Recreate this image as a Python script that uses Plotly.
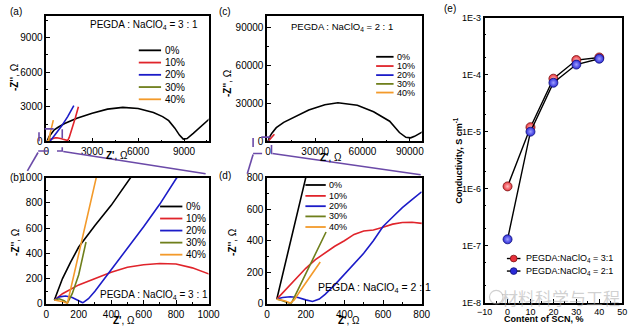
import plotly.graph_objects as go

W, H = 640, 332
def px(x): return x / W
def py(y): return 1 - y / H

FONT = "Liberation Sans, Arial, sans-serif"

# ---------------- data ----------------
series_labels = ["0%", "10%", "20%", "30%", "40%"]
series_colors = ["#000000", "#e0242b", "#1c1cc8", "#6f7f1c", "#f39a2a"]

# PEGDA : NaClO4 = 3 : 1  (panels a, b)
r31_0_x = [50, 70, 100, 150, 200, 300, 400, 520, 800, 1200, 2000, 3000, 4000, 5000, 6000, 7000, 7600, 8000, 8400, 8700, 8950, 9200, 9600, 10100, 10700]
r31_0_y = [30, 100, 200, 330, 450, 620, 780, 1000, 1250, 1550, 2000, 2450, 2800, 2950, 2850, 2500, 2150, 1800, 1150, 550, 200, 250, 700, 1300, 2000]
r31_10_x = [50, 100, 200, 300, 400, 500, 600, 700, 800, 900, 1000, 1100, 1200, 1300, 1400, 1500, 1700, 1900, 2100]
r31_10_y = [30, 80, 150, 200, 250, 290, 310, 320, 315, 285, 240, 190, 130, 80, 70, 350, 1150, 2050, 3000]
r31_20_x = [50, 80, 120, 160, 200, 225, 260, 300, 400, 500, 600, 700, 800, 1000, 1400, 1800]
r31_20_y = [30, 55, 62, 50, 25, 8, 40, 100, 270, 440, 610, 790, 990, 1330, 2150, 3100]
r31_30_x = [50, 80, 110, 130, 160, 200, 245]
r31_30_y = [30, 40, 25, 5, 80, 230, 490]
r31_40_x = [50, 80, 110, 130, 160, 200, 250, 310, 400, 460]
r31_40_y = [30, 25, 15, 3, 170, 390, 670, 1000, 1500, 1850]

# PEGDA : NaClO4 = 2 : 1  (panels c, d)
r21_0_x = [50, 100, 150, 200, 400, 1000, 2500, 5300, 10000, 15600, 25900, 36100, 44400, 56700, 67000, 77200, 83400, 87500, 90500, 93000, 96000, 98000]
r21_0_y = [30, 290, 550, 800, 1800, 3500, 6500, 10800, 15000, 18400, 24700, 28900, 30400, 28500, 23400, 15900, 7000, 3250, 2800, 4000, 6500, 7500]
r21_10_x = [50, 100, 150, 200, 250, 300, 350, 400, 450, 500, 550, 600, 650, 700, 750, 800, 1500, 2500, 4100]
r21_10_y = [30, 95, 160, 225, 280, 325, 365, 400, 440, 462, 468, 485, 505, 515, 517, 510, 1300, 2900, 5700]
r21_20_x = [50, 80, 120, 160, 200, 235, 270, 300, 350, 400, 450, 500, 550, 600, 650, 700, 750, 800]
r21_20_y = [30, 40, 45, 40, 25, 15, 30, 60, 120, 185, 250, 320, 400, 490, 550, 610, 660, 710]
r21_30_x = [50, 80, 110, 125, 160, 200, 250, 305]
r21_30_y = [30, 20, 5, 3, 90, 190, 310, 455]
r21_40_x = [50, 90, 120, 140, 170, 200, 235, 275]
r21_40_y = [30, 20, 5, 25, 80, 135, 200, 265]

r31 = [(r31_0_x, r31_0_y), (r31_10_x, r31_10_y), (r31_20_x, r31_20_y), (r31_30_x, r31_30_y), (r31_40_x, r31_40_y)]
r21 = [(r21_0_x, r21_0_y), (r21_10_x, r21_10_y), (r21_20_x, r21_20_y), (r21_30_x, r21_30_y), (r21_40_x, r21_40_y)]

# panel e
scn_content = [0, 10, 20, 30, 40]
cond_31 = [1.1e-6, 1.2e-5, 8.5e-5, 1.8e-4, 2.0e-4]
cond_21 = [1.3e-7, 1.0e-5, 7.2e-5, 1.5e-4, 1.9e-4]
cond_tickvals = [1e-8, 1e-7, 1e-6, 1e-5, 1e-4, 1e-3]
cond_ticktext = ["1E-8", "1E-7", "1E-6", "1E-5", "1E-4", "1E-3"]

fig = go.Figure()

# panels a-d: (axis suffix, dataset)
panel_defs = [("", r31), ("2", r31), ("3", r21), ("4", r21)]
for suf, data in panel_defs:
    for (xs, ys), col in zip(data, series_colors):
        fig.add_trace(go.Scatter(x=xs, y=ys, mode="lines", line=dict(color=col, width=1.6),
                                 xaxis="x" + suf, yaxis="y" + suf, showlegend=False, hoverinfo="skip"))

# panel e
fig.add_trace(go.Scatter(x=scn_content, y=cond_31, mode="lines+markers", xaxis="x5", yaxis="y5",
                         line=dict(color="black", width=1.4),
                         marker=dict(size=9, color="#e8303a", line=dict(color="#7a1010", width=0.8),
                                     gradient=dict(type="radial", color="#ffc0c0")),
                         showlegend=False))
fig.add_trace(go.Scatter(x=scn_content, y=cond_21, mode="lines+markers", xaxis="x5", yaxis="y5",
                         line=dict(color="black", width=1.4),
                         marker=dict(size=9, color="#2a2ad8", line=dict(color="#10107a", width=0.8),
                                     gradient=dict(type="radial", color="#a0a0ff")),
                         showlegend=False))

def axis(domain, rng, tickvals, minor_dtick, anchor, tick_font=10, **kw):
    d = dict(domain=domain, range=rng, tickvals=tickvals, anchor=anchor, tickformat="d",
             showline=True, linecolor="black", linewidth=1.5, mirror=True,
             ticks="inside", ticklen=4, tickwidth=1, tickcolor="black",
             showgrid=False, zeroline=False,
             tickfont=dict(family=FONT, size=tick_font, color="black"))
    if minor_dtick is not None:
        d["minor"] = dict(ticks="inside", ticklen=2, tickcolor="black", dtick=minor_dtick, showgrid=False)
    d.update(kw)
    return d

xa_dom = [px(39.5), px(207)]
xc_dom = [px(267.5), px(427)]
ytop_dom = [py(140.5), py(10)]
ybot_dom = [py(309), py(178)]

fig.update_layout(
    width=W, height=H, margin=dict(l=0, r=0, t=0, b=0),
    paper_bgcolor="white", plot_bgcolor="white",
    font=dict(family=FONT, color="black"),
    xaxis=axis(xa_dom, [0, 10600], [0, 3000, 6000, 9000], 1500, "y"),
    yaxis=axis(ytop_dom, [0, 10900], [0, 3000, 6000, 9000], 1500, "x"),
    xaxis2=axis(xa_dom, [0, 1000], [0, 200, 400, 600, 800, 1000], 100, "y2"),
    yaxis2=axis(ybot_dom, [0, 1000], [0, 200, 400, 600, 800, 1000], 100, "x2"),
    xaxis3=axis(xc_dom, [-500, 97500], [0, 30000, 60000, 90000], 15000, "y3"),
    yaxis3=axis(ytop_dom, [0, 99000], [0, 30000, 60000, 90000], 15000, "x3"),
    xaxis4=axis(xc_dom, [0, 800], [0, 200, 400, 600, 800], 100, "y4"),
    yaxis4=axis(ybot_dom, [0, 800], [0, 200, 400, 600, 800], 100, "x4"),
    xaxis5=axis([px(492), px(634)], [-10, 50], [-10, 0, 10, 20, 30, 40, 50], 5, "y5", tick_font=9),
    yaxis5=dict(domain=[py(308), py(12)], type="log", range=[-8, -3], anchor="x5",
                tickvals=cond_tickvals, ticktext=cond_ticktext,
                showline=True, linecolor="black", linewidth=1.5, mirror=True,
                ticks="inside", ticklen=4, tickcolor="black", showgrid=False, zeroline=False,
                tickfont=dict(family=FONT, size=9, color="black"),
                minor=dict(ticks="inside", ticklen=2, tickcolor="black", showgrid=False)),
)

shapes = []
annotations = []

def ann(x, y, text, size=10, xanchor="center", angle=0, color="black", family=FONT):
    annotations.append(dict(x=px(x), y=py(y), xref="paper", yref="paper", text=text, showarrow=False,
                            xanchor=xanchor, yanchor="middle", textangle=angle,
                            font=dict(family=family, size=size, color=color)))

def legend(x0, x1, rows, size):
    for lab, col, yy in zip(series_labels, series_colors, rows):
        shapes.append(dict(type="line", xref="paper", yref="paper", x0=px(x0), x1=px(x1), y0=py(yy), y1=py(yy),
                           line=dict(color=col, width=1.8)))
        ann(x1 + 1.5, yy, lab, size=size, xanchor="left")

legend(135, 158, [46, 58.7, 71.4, 84.1, 96.8], 10)
legend(157, 180, [208, 220.5, 233, 245.5, 258], 10)
legend(380, 398, [52.7, 62.3, 71.7, 80.8, 89.8], 9)
legend(307, 328, [185.7, 197, 207.7, 218.3, 229.3], 9)

# composition texts
ann(140, 20, "PEGDA : NaClO<sub>4</sub> = 3 : 1", 10)
ann(151, 300, "PEGDA : NaClO<sub>4</sub> = 3 : 1", 10)
ann(345, 22, "PEGDA : NaClO<sub>4</sub> = 2 : 1", 9.5)
ann(318, 293, "PEGDA : NaClO<sub>4</sub> = 2 : 1", 10.5, xanchor="left")

# axis titles
ytitle = "<b>-Z''</b>, Ω"
xtitle = "<b>Z'</b>, Ω"
ann(7, 74, ytitle, 10, angle=-90)
ann(113, 155, xtitle, 10)
ann(7, 245, ytitle, 10, angle=-90)
ann(120, 326, xtitle, 10)
ann(226, 80, ytitle, 10, angle=-90)
ann(333, 157, xtitle, 10)
ann(231, 245, ytitle, 10, angle=-90)
ann(352, 326, xtitle, 10)
ann(465, 160, "<b>Conductivity, S cm<sup>-1</sup></b>", 9, angle=-90)
ann(553, 325, "<b>Content of SCN, %</b>", 9)

# panel labels
ann(0, 6, "(a)", 10, xanchor="left")
ann(0, 178, "(b)", 10, xanchor="left")
ann(216, 6, "(c)", 10, xanchor="left")
ann(216, 176, "(d)", 10, xanchor="left")
ann(448, 3, "(e)", 10, xanchor="left")

# panel e legend
for (lab, mc, lc), yy in zip([("PEGDA:NaClO<sub>4</sub> = 3:1", "#e8303a", "#7a1010"),
                              ("PEGDA:NaClO<sub>4</sub> = 2:1", "#2a2ad8", "#10107a")], [262, 275]):
    shapes.append(dict(type="line", xref="paper", yref="paper", x0=px(515), x1=px(529), y0=py(yy), y1=py(yy),
                       line=dict(color="black", width=1.4)))
    shapes.append(dict(type="circle", xref="paper", yref="paper", x0=px(518.5), x1=px(525.5),
                       y0=py(yy + 3.5), y1=py(yy - 3.5), fillcolor=mc, line=dict(color=lc, width=0.8)))
    ann(533, yy, lab, 9, xanchor="left")

# watermark
ann(570, 302, "材料科学与工程", 17, color="rgba(170,170,170,0.55)", family="Noto Sans CJK SC")
shapes.append(dict(type="circle", xref="paper", yref="paper", x0=px(497), x1=px(511), y0=py(309), y1=py(295),
                   line=dict(color="rgba(170,170,170,0.55)", width=1.2)))

# purple zoom indicators
purple = "#6b4aa8"
shapes.append(dict(type="rect", xref="paper", yref="paper", x0=px(32), x1=px(56), y0=py(150.5), y1=py(127.5),
                   line=dict(color=purple, width=1.6, dash="dash")))
shapes.append(dict(type="line", xref="paper", yref="paper", x0=px(31), y0=py(152), x1=px(20), y1=py(171),
                   line=dict(color=purple, width=1.6)))
shapes.append(dict(type="line", xref="paper", yref="paper", x0=px(57), y0=py(151), x1=px(204), y1=py(174),
                   line=dict(color=purple, width=1.6)))
shapes.append(dict(type="rect", xref="paper", yref="paper", x0=px(253), x1=px(272), y0=py(153), y1=py(136),
                   line=dict(color=purple, width=1.6, dash="dash")))
shapes.append(dict(type="line", xref="paper", yref="paper", x0=px(253), y0=py(154), x1=px(247), y1=py(174),
                   line=dict(color=purple, width=1.6)))
shapes.append(dict(type="line", xref="paper", yref="paper", x0=px(273), y0=py(153), x1=px(426), y1=py(175),
                   line=dict(color=purple, width=1.6)))

fig.update_layout(shapes=shapes, annotations=annotations)
fig.write_html("out.html")
